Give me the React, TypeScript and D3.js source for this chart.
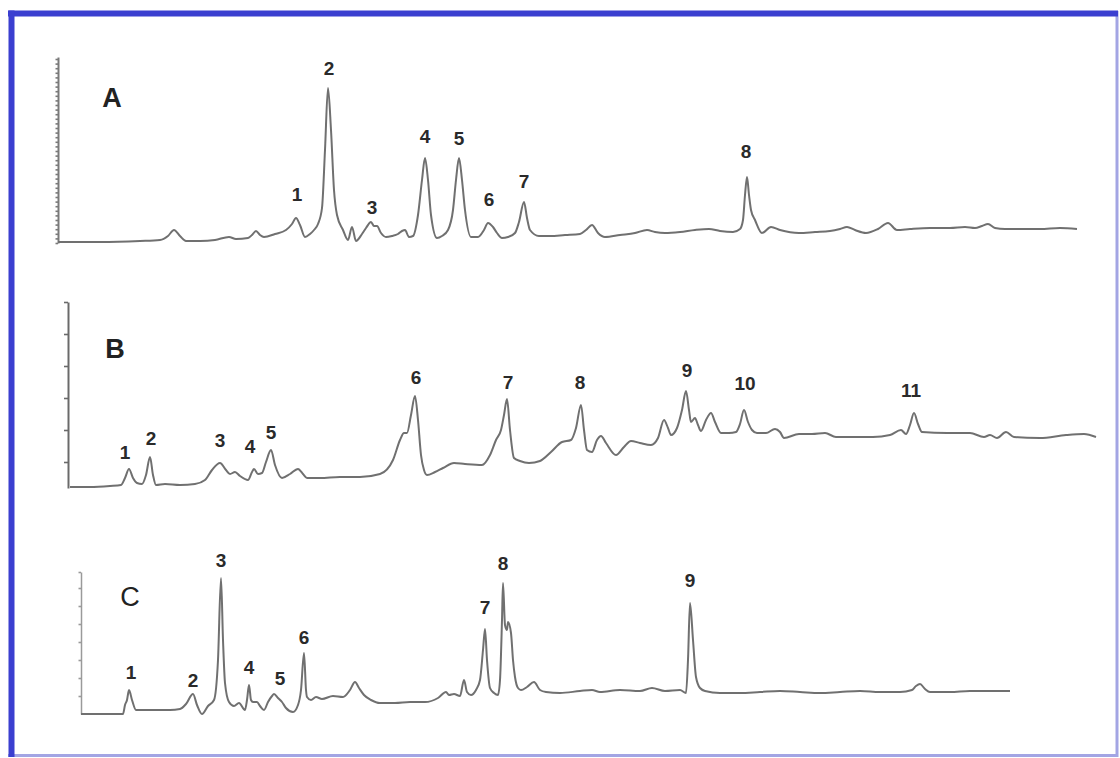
import React, { useEffect, useRef } from "react";
import * as d3 from "d3";

// Retention time (min) and detector response (mAU)
const traceA: [number, number][] = [
  [0, 1], [4.2, 1], [8.2, 2], [10.2, 3], [11.0, 7], [11.6, 13], [12.2, 7], [12.8, 2], [14.2, 2], [15.7, 3],
  [17.1, 6], [17.8, 4], [19.0, 5], [19.4, 8], [19.8, 12], [20.2, 8], [20.6, 6], [21.7, 9], [22.8, 13], [23.4, 19],
  [23.8, 25], [24.2, 18], [24.7, 6], [25.2, 9], [25.6, 13], [26.0, 19], [26.4, 35], [26.7, 93], [27.0, 155], [27.3, 113],
  [27.6, 53], [27.9, 28], [28.5, 13], [29.0, 3], [29.4, 16], [29.8, 2], [30.4, 9], [30.8, 15], [31.3, 21], [31.6, 17],
  [31.9, 17], [32.3, 10], [32.8, 6], [33.4, 7], [34.0, 9], [34.4, 12], [34.7, 13], [35.1, 6], [35.5, 7], [36.0, 28],
  [36.4, 63], [36.7, 85], [37.0, 63], [37.3, 28], [37.9, 5], [38.4, 7], [39.0, 13], [39.5, 33], [39.8, 63], [40.1, 85],
  [40.4, 63], [40.7, 33], [41.3, 6], [42.0, 6], [42.6, 13], [43.0, 20], [43.5, 16], [43.9, 10], [44.4, 5], [45.0, 6],
  [45.7, 10], [46.1, 21], [46.6, 41], [46.9, 25], [47.2, 13], [48.1, 7], [49.2, 7], [50.7, 8], [52.2, 9], [52.8, 13],
  [53.4, 18], [54.0, 10], [54.7, 6], [56.2, 8], [57.7, 10], [58.9, 13], [59.7, 11], [60.7, 10], [62.2, 11], [63.7, 13],
  [65.1, 14], [66.2, 12], [67.5, 11], [68.2, 14], [68.5, 23], [68.7, 48], [68.9, 66], [69.1, 48], [69.3, 33], [69.7, 23],
  [70.4, 10], [71.3, 16], [72.2, 13], [74.1, 10], [75.7, 11], [77.2, 12], [78.2, 14], [78.9, 16], [79.7, 13], [80.8, 10],
  [82.0, 14], [83.0, 20], [83.9, 13], [85.2, 14], [87.2, 15], [89.2, 15], [90.7, 16], [91.7, 15], [92.4, 17], [93.0, 19],
  [93.7, 15], [94.7, 14], [96.2, 14], [98.2, 14], [100.2, 15], [101.9, 14],
];

const traceB: [number, number][] = [
  [0.2, 1], [2.2, 1], [4.2, 2], [5.3, 3], [5.7, 10], [6.1, 19], [6.5, 10], [6.9, 5], [7.4, 4], [7.8, 13],
  [8.2, 31], [8.5, 13], [8.8, 3], [9.7, 4], [11.2, 3], [12.7, 4], [13.7, 8], [14.4, 18], [15.2, 25], [15.8, 18],
  [16.2, 14], [16.7, 16], [17.2, 12], [18.0, 8], [18.4, 16], [18.6, 19], [19.0, 14], [19.4, 15], [19.8, 26], [20.3, 38],
  [20.7, 23], [21.4, 10], [22.2, 14], [23.0, 19], [23.5, 14], [23.9, 10], [25.2, 10], [27.2, 11], [29.2, 11], [31.2, 14],
  [32.5, 28], [33.2, 48], [33.6, 55], [33.9, 55], [34.3, 73], [34.7, 92], [35.0, 68], [35.3, 33], [35.6, 18], [35.9, 13],
  [36.7, 16], [37.5, 20], [38.6, 25], [39.7, 24], [41.4, 23], [42.2, 33], [42.8, 48], [43.3, 58], [43.6, 73], [43.9, 89],
  [44.2, 58], [44.6, 30], [45.2, 27], [46.1, 25], [47.2, 27], [48.3, 36], [49.4, 46], [50.3, 48], [50.8, 60], [51.3, 83],
  [51.6, 58], [51.9, 38], [52.4, 36], [52.9, 48], [53.3, 52], [53.8, 45], [54.8, 33], [55.6, 41], [56.3, 47], [57.2, 45],
  [58.3, 43], [59.0, 50], [59.6, 68], [60.0, 60], [60.3, 53], [60.9, 60], [61.4, 78], [61.8, 97], [62.1, 78], [62.3, 66],
  [62.7, 70], [63.0, 63], [63.3, 57], [63.8, 68], [64.3, 75], [64.7, 66], [65.3, 55], [66.1, 55], [66.8, 56], [67.2, 64],
  [67.6, 78], [68.0, 66], [68.4, 58], [68.9, 55], [69.8, 55], [70.7, 59], [71.2, 56], [71.6, 50], [73.1, 54], [74.4, 54],
  [75.7, 55], [76.8, 51], [78.7, 51], [80.5, 51], [82.2, 53], [83.3, 58], [83.8, 54], [84.2, 63], [84.6, 75], [85.0, 64],
  [85.4, 56], [87.9, 55], [90.2, 55], [91.6, 51], [92.2, 53], [92.9, 50], [93.8, 56], [94.6, 51], [97.2, 50], [99.8, 53],
  [101.6, 54], [102.8, 51],
];

const traceC: [number, number][] = [
  [0, 0], [1.9, 0], [4.2, 0], [4.4, 9], [4.6, 14], [4.8, 24], [5.1, 14], [5.5, 4], [6.9, 4], [8.9, 4],
  [9.9, 5], [10.5, 10], [11.2, 20], [11.6, 9], [12.1, 0], [12.7, 8], [13.3, 14], [13.7, 54], [14.0, 136], [14.2, 74],
  [14.4, 31], [14.8, 12], [15.3, 8], [15.8, 11], [16.4, 4], [16.6, 14], [16.8, 29], [17.0, 14], [17.2, 12], [17.6, 12],
  [17.9, 8], [18.3, 4], [18.7, 12], [19.1, 18], [19.3, 20], [19.7, 16], [20.1, 12], [20.5, 6], [21.2, 2], [21.7, 9],
  [22.0, 24], [22.3, 61], [22.5, 24], [22.6, 17], [23.0, 14], [23.5, 17], [24.1, 15], [25.2, 18], [26.2, 17], [26.9, 24],
  [27.4, 32], [27.8, 26], [28.3, 19], [29.0, 14], [29.9, 11], [31.4, 11], [32.9, 12], [34.4, 12], [35.7, 16], [36.5, 22],
  [36.8, 19], [37.3, 20], [37.9, 18], [38.3, 34], [38.6, 22], [39.0, 19], [39.5, 24], [39.9, 34], [40.2, 64], [40.4, 85],
  [40.6, 54], [40.9, 26], [41.3, 21], [41.7, 19], [41.9, 34], [42.1, 94], [42.2, 131], [42.4, 89], [42.6, 84], [42.7, 92],
  [43.0, 81], [43.2, 54], [43.4, 37], [43.7, 26], [44.0, 24], [44.6, 27], [45.3, 32], [45.9, 24], [46.5, 22], [47.9, 21],
  [49.9, 23], [51.1, 24], [51.9, 22], [53.9, 24], [55.9, 23], [57.1, 26], [58.4, 23], [59.9, 24], [60.5, 21], [60.7, 54],
  [60.9, 111], [61.2, 74], [61.5, 37], [61.9, 26], [62.4, 23], [63.9, 21], [65.9, 21], [67.9, 22], [69.9, 23], [71.9, 22],
  [73.9, 21], [75.9, 22], [77.9, 23], [79.9, 22], [81.9, 22], [83.1, 24], [83.5, 28], [83.9, 30], [84.4, 25], [84.9, 22],
  [86.9, 22], [88.9, 23], [90.9, 23], [92.9, 23],
];

// Peak numbers: [label, retention time, response at label centre]
const peakLabelsA: [string, number, number][] = [
  ["1", 23.9, 49], ["2", 27.1, 175], ["3", 31.4, 36], ["4", 36.7, 107], ["5", 40.1, 105],
  ["6", 43.1, 44], ["7", 46.6, 62], ["8", 68.8, 92],
];
const peakLabelsB: [string, number, number][] = [
  ["1", 5.7, 36], ["2", 8.3, 50], ["3", 15.2, 48], ["4", 18.2, 42], ["5", 20.3, 56],
  ["6", 34.8, 111], ["7", 44.0, 106], ["8", 51.2, 106], ["9", 61.9, 118], ["10", 67.7, 105], ["11", 84.3, 98],
];
const peakLabelsC: [string, number, number][] = [
  ["1", 5.0, 42], ["2", 11.2, 34], ["3", 14.0, 154], ["4", 16.8, 47], ["5", 19.9, 36],
  ["6", 22.3, 77], ["7", 40.4, 107], ["8", 42.2, 151], ["9", 60.9, 134],
];

const panelNames = ["A", "B", "C"];
const yTicksA = d3.range(0, 187, 4.6);
const yTicksB = [26, 58, 90, 122, 154, 186];
const yTicksC = [18, 36, 54, 72, 90, 108, 126, 142];

type Panel = {
  name: string;
  trace: [number, number][];
  labels: [string, number, number][];
  ticks: number[];
  tMax: number;
  iMax: number;
  xr: [number, number];
  yr: [number, number];
  title: [number, number];
  titleWeight: string;
  titleSize: number;
  tickLen: number;
  axisColor: string;
  axisWidth: number;
};

const panels: Panel[] = [
  { name: panelNames[0], trace: traceA, labels: peakLabelsA, ticks: yTicksA, tMax: 102, iMax: 186,
    xr: [58, 1078], yr: [243, 57], title: [112, 98], titleWeight: "bold", titleSize: 27, tickLen: 2.5,
    axisColor: "#7a7a7a", axisWidth: 2 },
  { name: panelNames[1], trace: traceB, labels: peakLabelsB, ticks: yTicksB, tMax: 103, iMax: 186,
    xr: [68, 1098], yr: [488, 302], title: [115, 349], titleWeight: "bold", titleSize: 27, tickLen: 4,
    axisColor: "#6a6a6a", axisWidth: 2 },
  { name: panelNames[2], trace: traceC, labels: peakLabelsC, ticks: yTicksC, tMax: 93, iMax: 142,
    xr: [81, 1011], yr: [714, 572], title: [130, 597], titleWeight: "normal", titleSize: 27, tickLen: 2.5,
    axisColor: "#9a9a9a", axisWidth: 1.5 },
];

function PanelView({ p }: { p: Panel }) {
  const axisRef = useRef<SVGGElement>(null);
  const x = d3.scaleLinear().domain([0, p.tMax]).range(p.xr);
  const y = d3.scaleLinear().domain([0, p.iMax]).range(p.yr);
  const line = d3
    .line<[number, number]>()
    .x((d) => x(d[0]))
    .y((d) => y(d[1]))
    .curve(d3.curveMonotoneX);

  useEffect(() => {
    if (!axisRef.current) return;
    const g = d3.select(axisRef.current);
    g.selectAll("*").remove();
    g.call(
      d3.axisLeft(y).tickValues(p.ticks).tickSize(p.tickLen).tickSizeOuter(0).tickFormat(() => "")
    );
    g.select(".domain").attr("stroke", p.axisColor).attr("stroke-width", p.axisWidth);
    g.selectAll(".tick line").attr("stroke", p.axisColor).attr("stroke-width", 1.6);
  });

  return (
    <g>
      <g ref={axisRef} transform={`translate(${p.xr[0]},0)`} />
      <path
        d={line(p.trace) || ""}
        fill="none"
        stroke="#707070"
        strokeWidth={2}
        strokeLinejoin="round"
        filter="url(#soft)"
      />
      <text
        x={p.title[0]}
        y={p.title[1]}
        textAnchor="middle"
        dominantBaseline="central"
        fontFamily="'Liberation Sans', Arial, sans-serif"
        fontWeight={p.titleWeight}
        fontSize={p.titleSize}
        fill="#222"
      >
        {p.name}
      </text>
      {p.labels.map(([lab, t, v], i) => (
        <text
          key={i}
          x={x(t)}
          y={y(v)}
          textAnchor="middle"
          dominantBaseline="central"
          fontFamily="'Liberation Sans Narrow', 'Liberation Sans', Arial, sans-serif"
          fontWeight="bold"
          fontSize={19}
          fill="#2a2a2a"
        >
          {lab}
        </text>
      ))}
    </g>
  );
}

export default function App() {
  return (
    <svg
      width={1120}
      height={758}
      style={{ position: "absolute", left: 0, top: 0, background: "#fff" }}
    >
      <defs>
        <filter id="soft" x="-5%" y="-20%" width="110%" height="140%">
          <feGaussianBlur stdDeviation="0.45" />
        </filter>
      </defs>
      <rect x={0} y={0} width={1120} height={758} fill="#fff" />
      {/* frame */}
      <line x1={1117} y1={11} x2={1117} y2={757} stroke="#a3a5e4" strokeWidth={3} />
      <line x1={8} y1={755.5} x2={1118} y2={755.5} stroke="#a3a5e4" strokeWidth={3} />
      <line x1={8} y1={13.5} x2={1118} y2={13.5} stroke="#3b3fd0" strokeWidth={6} />
      <line x1={11.5} y1={10.5} x2={11.5} y2={757} stroke="#3b3fd0" strokeWidth={6} />
      {panels.map((p) => (
        <PanelView key={p.name} p={p} />
      ))}
    </svg>
  );
}
